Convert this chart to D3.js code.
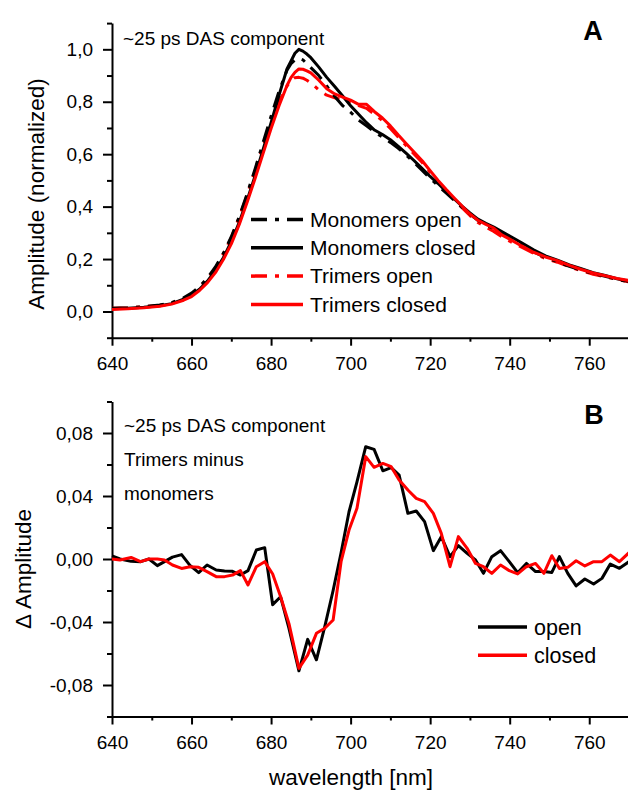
<!DOCTYPE html>
<html>
<head>
<meta charset="utf-8">
<script src="https://cdn.jsdelivr.net/npm/d3@7"></script>
<style>
  body { margin: 0; background: #fff; }
  svg { display: block; font-family: "Liberation Sans", Arial, sans-serif; }
</style>
</head>
<body>
<svg id="chart" width="628" height="790"></svg>
<script>
// === DONNÉES ===
// Panneau A : composante DAS ~25 ps, normalisée
const wlA = [640, 644, 648, 652, 655, 658, 660, 662, 664, 666, 668, 670, 672, 674, 676, 678, 680, 682, 684,
  685, 686, 687, 688, 689, 690, 692, 694, 696, 698, 700, 702, 704, 706, 708, 710, 712, 714, 716, 718, 720,
  722, 724, 726, 728, 730, 732, 734, 736, 738, 740, 743, 746, 749, 752, 755, 758, 761, 764, 767, 770];
const monomersOpen = [0.012, 0.014, 0.018, 0.025, 0.034, 0.052, 0.070, 0.095, 0.128, 0.170, 0.222, 0.285,
  0.362, 0.450, 0.545, 0.645, 0.745, 0.840, 0.920, 0.945, 0.960, 0.966, 0.960, 0.945, 0.930, 0.900, 0.860,
  0.820, 0.785, 0.760, 0.730, 0.708, 0.685, 0.665, 0.645, 0.622, 0.596, 0.568, 0.538, 0.508, 0.480, 0.452,
  0.425, 0.398, 0.372, 0.348, 0.330, 0.316, 0.298, 0.282, 0.255, 0.228, 0.205, 0.190, 0.172, 0.158, 0.145,
  0.134, 0.123, 0.113];
const monomersClosed = [0.010, 0.012, 0.016, 0.022, 0.030, 0.047, 0.062, 0.085, 0.116, 0.156, 0.205, 0.266,
  0.340, 0.425, 0.518, 0.618, 0.720, 0.825, 0.925, 0.955, 0.985, 1.000, 0.993, 0.982, 0.968, 0.932, 0.893,
  0.858, 0.822, 0.785, 0.752, 0.720, 0.692, 0.675, 0.655, 0.630, 0.603, 0.575, 0.545, 0.515, 0.488, 0.458,
  0.430, 0.402, 0.376, 0.352, 0.336, 0.322, 0.305, 0.288, 0.262, 0.235, 0.212, 0.196, 0.178, 0.163, 0.148,
  0.137, 0.125, 0.115];
const trimersOpen = [0.012, 0.014, 0.018, 0.024, 0.032, 0.048, 0.064, 0.090, 0.122, 0.165, 0.218, 0.282,
  0.360, 0.445, 0.538, 0.630, 0.720, 0.800, 0.860, 0.880, 0.892, 0.893, 0.890, 0.882, 0.872, 0.845, 0.825,
  0.815, 0.808, 0.800, 0.785, 0.775, 0.752, 0.728, 0.698, 0.665, 0.632, 0.600, 0.568, 0.530, 0.495, 0.460,
  0.428, 0.396, 0.366, 0.340, 0.322, 0.305, 0.285, 0.268, 0.245, 0.222, 0.202, 0.188, 0.170, 0.155, 0.142,
  0.132, 0.122, 0.113];
const trimersClosed = [0.008, 0.010, 0.014, 0.020, 0.028, 0.043, 0.057, 0.080, 0.110, 0.148, 0.198, 0.258,
  0.332, 0.418, 0.508, 0.603, 0.698, 0.785, 0.862, 0.892, 0.912, 0.925, 0.924, 0.918, 0.910, 0.882, 0.850,
  0.830, 0.818, 0.806, 0.790, 0.790, 0.762, 0.738, 0.708, 0.673, 0.640, 0.607, 0.575, 0.537, 0.500, 0.466,
  0.434, 0.402, 0.372, 0.348, 0.332, 0.318, 0.292, 0.276, 0.250, 0.226, 0.208, 0.194, 0.176, 0.160, 0.147,
  0.136, 0.126, 0.118];

// Panneau B : trimères moins monomères
const wlB = [640, 642, 644.8, 647.2, 649.3, 651.4, 653.2, 655.2, 657.5, 659.6, 661.8, 663.9, 666.2, 668.3,
  670.3, 672.3, 674.2, 676.3, 678.4, 680.4, 682.4, 684.5, 687, 689.2, 691.4, 693.5, 695.6, 697.6, 699.6,
  701.6, 703.8, 705.9, 708.1, 710.2, 712.2, 714.4, 716.5, 718.6, 720.8, 722.8, 725, 727.1, 729.3, 731.4,
  733.4, 735.5, 737.7, 739.9, 742, 744.2, 746.5, 748.6, 750.6, 752.5, 754.6, 756.7, 758.9, 761.1, 763.2,
  765.3, 767.6, 770];
const diffOpen = [0.002, 0, -0.0015, -0.0017, 0, -0.0042, -0.0017, 0.0012, 0.0028, -0.004,
  -0.0087, -0.0038, -0.007, -0.0076, -0.0078, -0.0102, -0.0074, 0.0057, 0.0072, -0.029,
  -0.024, -0.044, -0.071, -0.051, -0.064, -0.043, -0.02, 0.004, 0.03, 0.049,
  0.0713, 0.0696, 0.056, 0.058, 0.0533, 0.029, 0.0305, 0.0237, 0.0053, 0.0142,
  0.0015, 0.0085, 0.0036, -0.0006, -0.0091, 0.0015, 0.0053, -0.0017, -0.0087, -0.0028,
  -0.008, -0.008, -0.0085, 0.0015, -0.0091, -0.0171, -0.0127, -0.0159, -0.0123, -0.0032, -0.0059, -0.0017];
const diffClosed = [0, -0.0006, 0.001, -0.0017, 0, 0, -0.0006, -0.0038, -0.006, -0.0049,
  -0.0053, -0.008, -0.0112, -0.0112, -0.0102, -0.0074, -0.0165, -0.0049, -0.0017, -0.0095,
  -0.024, -0.041, -0.0694, -0.061, -0.0472, -0.044, -0.0387, -0.0017, 0.0184, 0.0322,
  0.065, 0.0582, 0.0607, 0.0586, 0.0501, 0.0438, 0.0385, 0.0364, 0.029, 0.0163,
  -0.0049, 0.0142, 0.0068, -0.0028, -0.0049, -0.0091, -0.0038, -0.0074, -0.0095, -0.0049,
  -0.0028, -0.0091, 0.0021, -0.006, -0.0053, -0.0011, -0.0044, -0.0017, -0.0017, 0.0025, -0.0017, 0.004];

// Graduations
const xTicks = [640, 660, 680, 700, 720, 740, 760];
const xMinor = [650, 670, 690, 710, 730, 750, 770];
const yTicksA = [0, 0.2, 0.4, 0.6, 0.8, 1.0];
const yMinorA = [-0.1, 0.1, 0.3, 0.5, 0.7, 0.9, 1.1];
const yTicksB = [-0.08, -0.04, 0, 0.04, 0.08];
const yMinorB = [-0.1, -0.06, -0.02, 0.02, 0.06, 0.1];

// === CONFIGURATION ===
const RED = "#ff0000";
const DASHDOT = "16,8,4,8";
const FONT = "'Liberation Sans', Arial, sans-serif";

const svg = d3.select("#chart");
const x = d3.scaleLinear().domain([640, 770]).range([112, 629]);
const yA = d3.scaleLinear().domain([-0.1, 1.1]).range([337.7, 23.1]);
const yB = d3.scaleLinear().domain([-0.1, 0.1]).range([716.5, 401.5]);

// === AXES ===
function drawAxes(y, ticks, minor, digits) {
  const yBottom = y.range()[0];

  const gx = svg.append("g")
    .attr("transform", `translate(0,${yBottom})`)
    .call(d3.axisBottom(x).tickValues(xTicks).tickSize(8).tickSizeOuter(0).tickPadding(11).tickFormat(d3.format("d")));
  svg.append("g")
    .attr("transform", `translate(0,${yBottom})`)
    .call(d3.axisBottom(x).tickValues(xMinor).tickSize(4).tickFormat(""))
    .call(g => g.select(".domain").remove());

  const gy = svg.append("g")
    .attr("transform", `translate(${x.range()[0]},0)`)
    .call(d3.axisLeft(y).tickValues(ticks).tickSize(9).tickSizeOuter(0).tickPadding(10)
      .tickFormat(d => d.toFixed(digits).replace(".", ",")));
  svg.append("g")
    .attr("transform", `translate(${x.range()[0]},0)`)
    .call(d3.axisLeft(y).tickValues(minor).tickSize(5).tickFormat(""))
    .call(g => g.select(".domain").remove());

  svg.selectAll(".domain, .tick line").attr("stroke", "#000").attr("stroke-width", 2);
  [gx, gy].forEach(g => g.selectAll("text")
    .attr("font-size", 19).attr("font-family", FONT).attr("fill", "#000"));
}

drawAxes(yA, yTicksA, yMinorA, 1);
drawAxes(yB, yTicksB, yMinorB, 2);

// === COURBES ===
function drawLine(wl, values, y, color, dash) {
  const line = d3.line().x((d, i) => x(wl[i])).y(d => y(d));
  svg.append("path")
    .datum(values)
    .attr("fill", "none")
    .attr("stroke", color)
    .attr("stroke-width", 3)
    .attr("stroke-linejoin", "round")
    .attr("stroke-dasharray", dash)
    .attr("d", line);
}

drawLine(wlA, trimersOpen, yA, RED, DASHDOT);
drawLine(wlA, monomersOpen, yA, "#000", DASHDOT);
drawLine(wlA, monomersClosed, yA, "#000", null);
drawLine(wlA, trimersClosed, yA, RED, null);

drawLine(wlB, diffOpen, yB, "#000", null);
drawLine(wlB, diffClosed, yB, RED, null);

// === TEXTES ===
function label(txt, px, py, size, opts = {}) {
  return svg.append("text")
    .attr("x", px).attr("y", py)
    .attr("font-size", size)
    .attr("font-family", FONT)
    .attr("font-weight", opts.bold ? "bold" : "normal")
    .attr("text-anchor", opts.anchor || "start")
    .attr("transform", opts.rotate ? `rotate(-90,${px},${py})` : null)
    .text(txt);
}

label("~25 ps DAS component", 123, 45, 19);
label("A", 593, 39.5, 27, { bold: true, anchor: "middle" });
label("Amplitude (normalized)", 44, 194, 22.5, { anchor: "middle", rotate: true });

label("~25 ps DAS component", 124, 432, 19);
label("Trimers minus", 124, 466, 19);
label("monomers", 124, 500, 19);
label("B", 594, 424, 27, { bold: true, anchor: "middle" });
label("\u0394 Amplitude", 31, 569, 22.5, { anchor: "middle", rotate: true });
label("wavelength [nm]", 351, 785, 22.5, { anchor: "middle" });

// === LÉGENDES ===
const legendA = [
  { name: "Monomers open", color: "#000", dash: DASHDOT },
  { name: "Monomers closed", color: "#000", dash: null },
  { name: "Trimers open", color: RED, dash: DASHDOT },
  { name: "Trimers closed", color: RED, dash: null }
];
legendA.forEach((d, i) => {
  const ly = 219.5 + i * 28.3;
  svg.append("line")
    .attr("x1", 251).attr("x2", 303).attr("y1", ly).attr("y2", ly)
    .attr("stroke", d.color).attr("stroke-width", 3.5).attr("stroke-dasharray", d.dash);
  label(d.name, 310, ly, 21).attr("dy", "0.35em");
});

const legendB = [
  { name: "open", color: "#000" },
  { name: "closed", color: RED }
];
legendB.forEach((d, i) => {
  const ly = 627 + i * 28.3;
  svg.append("line")
    .attr("x1", 478).attr("x2", 527).attr("y1", ly).attr("y2", ly)
    .attr("stroke", d.color).attr("stroke-width", 3.5);
  label(d.name, 534, ly, 21.5).attr("dy", "0.35em");
});
</script>
</body>
</html>
